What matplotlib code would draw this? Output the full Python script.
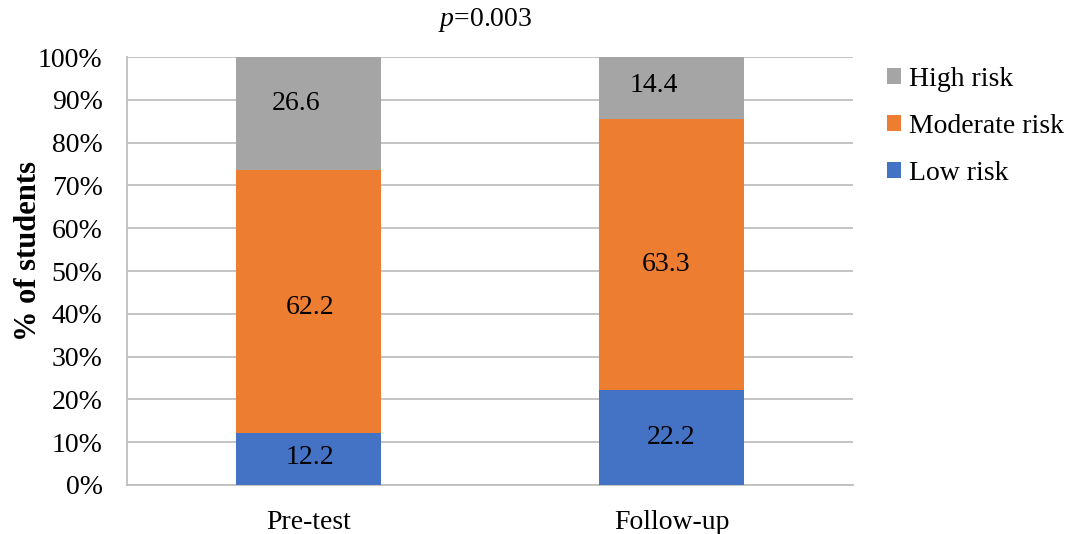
import matplotlib
matplotlib.use("Agg")
import matplotlib.pyplot as plt
import numpy as np

categories = ["Pre-test", "Follow-up"]
low = [12.2, 22.2]
moderate = [62.2, 63.3]
high = [26.6, 14.4]
series_names = ["Low risk", "Moderate risk", "High risk"]
colors = ["#4472C4", "#ED7D31", "#A5A5A5"]
yticks = list(range(0, 101, 10))

plt.rcParams['font.family'] = ['Liberation Serif', 'DejaVu Serif']
plt.rcParams['mathtext.fontset'] = 'custom'
plt.rcParams['mathtext.it'] = 'Liberation Serif:italic'
plt.rcParams['mathtext.rm'] = 'Liberation Serif'

FS = 20

fig = plt.figure(figsize=(10.84, 5.34), dpi=100)
ax = fig.add_axes([0.117, 0.092, 0.67, 0.801])

data = np.array([low, moderate, high])
totals = data.sum(axis=0)
norm = data / totals * 100
x = np.arange(len(categories))
# small label nudges (points) to mimic the reference's label placement
nudges = {(0, 0): (1, 1), (0, 1): (1, -4), (0, 2): (-9, 7),
          (1, 0): (0, 0), (1, 1): (-4, -7), (1, 2): (-13, 2)}
bottom = np.zeros(len(categories))
handles = []
for i, name in enumerate(series_names):
    b = ax.bar(x, norm[i], 0.4, bottom=bottom, color=colors[i], label=name, zorder=3)
    handles.append(b)
    for j in range(len(categories)):
        dx, dy = nudges[(j, i)]
        ax.annotate(f"{data[i][j]:.1f}", (x[j], bottom[j] + norm[i][j] / 2),
                    xytext=(dx, dy), textcoords='offset points',
                    ha='center', va='center', fontsize=FS, color='black', zorder=4)
    bottom += norm[i]

ax.set_xlim(-0.5, 1.5)
ax.set_ylim(0, 100)
ax.set_yticks(yticks)
ax.set_yticklabels([f"{t}%" for t in yticks], fontsize=FS)
ax.set_xticks(x)
ax.set_xticklabels(categories, fontsize=FS)
ax.tick_params(axis='y', length=0, pad=17.5)
ax.tick_params(axis='x', length=0, pad=18)
ax.grid(axis='y', color='#BFBFBF', linewidth=1.3, zorder=0)
for s in ['top', 'right']:
    ax.spines[s].set_visible(False)
ax.spines['left'].set_color('#BFBFBF')
ax.spines['bottom'].set_color('#BFBFBF')
ax.spines['left'].set_linewidth(1.3)
ax.spines['bottom'].set_linewidth(1.3)
ax.set_ylabel("% of students", fontsize=22, fontweight='bold')
ax.yaxis.set_label_coords(-0.116, 0.547)

fig.text(0.448, 0.962, r"$p$=0.003", ha='center', va='center', fontsize=FS)

leg = fig.legend(handles[::-1], series_names[::-1], loc='upper left',
                 bbox_to_anchor=(0.808, 0.895), frameon=False, fontsize=FS,
                 handlelength=0.5, handleheight=0.5, handletextpad=0.3,
                 labelspacing=0.78, borderaxespad=0)

fig.savefig("out.png", dpi=100)
